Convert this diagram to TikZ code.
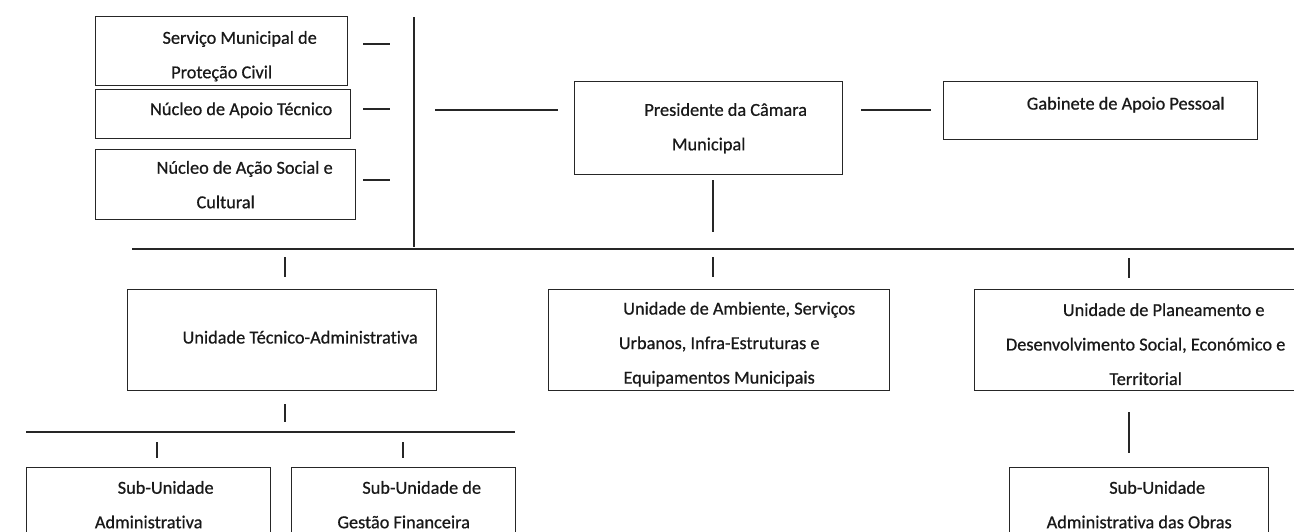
\documentclass[tikz,border=0pt]{standalone}
\usepackage{fontspec}
\setmainfont{Carlito}[FakeBold=0.7,Ligatures=NoCommon]
\begin{document}
\begin{tikzpicture}[x=1pt,y=-1pt,
  box/.style={draw=black!85, line width=1.4pt, rectangle, anchor=north west, inner sep=0pt},
  txt/.style={inner sep=0pt, align=center, font=\fontsize{18.3}{34.5}\selectfont, text=black!90},
  ln/.style={draw=black!85, line width=1.3pt}]
\useasboundingbox (0,0) rectangle (1294,531);
\clip (0,0) rectangle (1294,531);
% boxes
\node[box, minimum width=252pt, minimum height=69pt] (svc) at (95,16) {};
\node[txt] (svc-t) at ([yshift=-5pt]svc.center) {\hspace*{36pt}Serviço Municipal de\\Proteção Civil};
\node[box, minimum width=255pt, minimum height=49pt] (nat) at (95,89) {};
\node[txt] (nat-t) at ([yshift=4pt]nat.center) {\hspace*{36pt}Núcleo de Apoio Técnico};
\node[box, minimum width=260pt, minimum height=70pt] (nas) at (95,149) {};
\node[txt] (nas-t) at (nas.center) {\hspace*{38pt}Núcleo de Ação Social e\\Cultural};
\node[box, minimum width=268pt, minimum height=93pt] (pres) at (574,81) {};
\node[txt] (pres-t) at (pres.center) {\hspace*{34pt}Presidente da Câmara\\Municipal};
\node[box, minimum width=314pt, minimum height=58pt] (gab) at (943,81) {};
\node[txt] (gab-t) at ([yshift=6pt]gab.center) {\hspace*{50pt}Gabinete de Apoio Pessoal};
\node[box, minimum width=309pt, minimum height=101pt] (uta) at (127,289) {};
\node[txt] (uta-t) at ([yshift=3pt]uta.center) {\hspace*{36pt}Unidade Técnico-Administrativa};
\node[box, minimum width=341pt, minimum height=101pt] (uam) at (548,289) {};
\node[txt] (uam-t) at ([yshift=-4pt]uam.center) {\hspace*{40pt}Unidade de Ambiente, Serviços\\Urbanos, Infra-Estruturas e\\Equipamentos Municipais};
\node[box, minimum width=342pt, minimum height=101pt] (upd) at (974,289) {};
\node[txt] (upd-t) at ([yshift=-4pt]upd.center) {\hspace*{36pt}Unidade de Planeamento e\\Desenvolvimento Social, Económico e\\Territorial};
\node[box, minimum width=244pt, minimum height=80pt] (sua) at (26,467) {};
\node[txt] (sua-t) at ([yshift=3pt]sua.center) {\hspace*{34pt}Sub-Unidade\\Administrativa};
\node[box, minimum width=224pt, minimum height=80pt] (sug) at (291,467) {};
\node[txt] (sug-t) at ([yshift=3pt]sug.center) {\hspace*{36pt}Sub-Unidade de\\Gestão Financeira};
\node[box, minimum width=259pt, minimum height=80pt] (suo) at (1009,467) {};
\node[txt] (suo-t) at ([yshift=3pt]suo.center) {\hspace*{36pt}Sub-Unidade\\Administrativa das Obras};
% connector coordinates
\coordinate (a1) at (363,44);  \coordinate (a2) at (390,44);
\coordinate (b1) at (363,109); \coordinate (b2) at (390,109);
\coordinate (c1) at (363,180); \coordinate (c2) at (390,180);
\coordinate (vt) at (414,17);  \coordinate (vb) at (414,247);
\coordinate (p1) at (435,110); \coordinate (p2) at (558,110);
\coordinate (g1) at (861,110); \coordinate (g2) at (931,110);
\coordinate (d1) at (713,180); \coordinate (d2) at (713,232);
\coordinate (h1) at (132,249); \coordinate (h2) at (1300,249);
\coordinate (t1a) at (285,257); \coordinate (t1b) at (285,277);
\coordinate (t2a) at (713,257); \coordinate (t2b) at (713,277);
\coordinate (t3a) at (1129,258); \coordinate (t3b) at (1129,278);
\coordinate (u1) at (285,404); \coordinate (u2) at (285,422);
\coordinate (k1) at (26,432);  \coordinate (k2) at (515,432);
\coordinate (s1a) at (157,442); \coordinate (s1b) at (157,458);
\coordinate (s2a) at (403,442); \coordinate (s2b) at (403,458);
\coordinate (w1) at (1129,412); \coordinate (w2) at (1129,453);
\draw[ln] (a1) -- (a2);
\draw[ln] (b1) -- (b2);
\draw[ln] (c1) -- (c2);
\draw[ln] (vt) -- (vb);
\draw[ln] (p1) -- (p2);
\draw[ln] (g1) -- (g2);
\draw[ln] (d1) -- (d2);
\draw[ln] (h1) -- (h2);
\draw[ln] (t1a) -- (t1b);
\draw[ln] (t2a) -- (t2b);
\draw[ln] (t3a) -- (t3b);
\draw[ln] (u1) -- (u2);
\draw[ln] (k1) -- (k2);
\draw[ln] (s1a) -- (s1b);
\draw[ln] (s2a) -- (s2b);
\draw[ln] (w1) -- (w2);
\end{tikzpicture}
\end{document}
